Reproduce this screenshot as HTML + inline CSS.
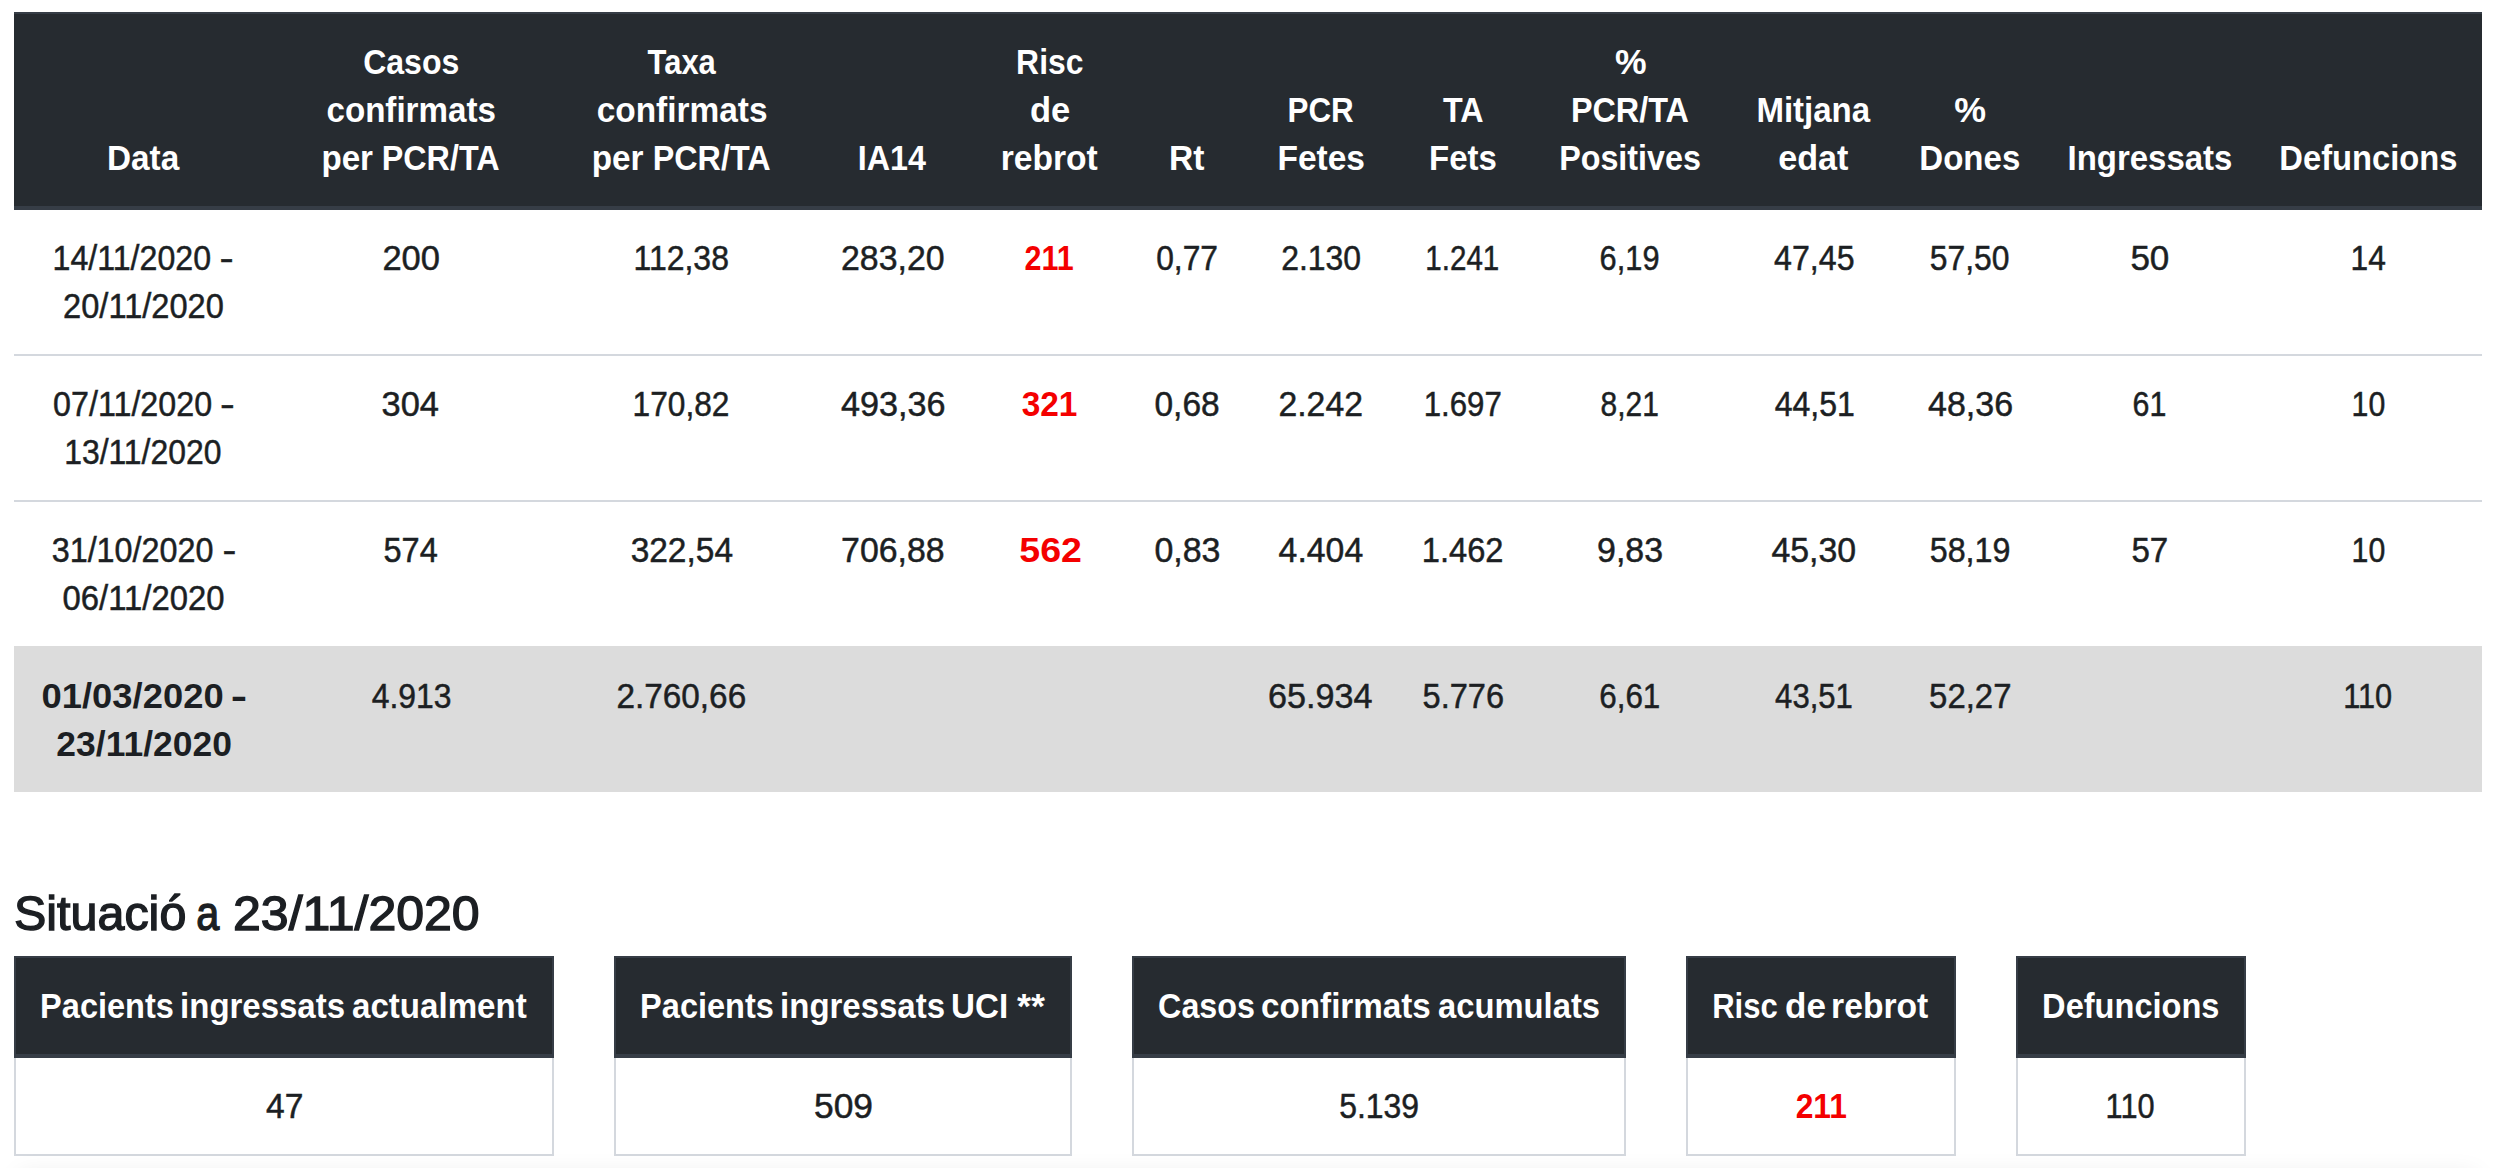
<!DOCTYPE html>
<html lang="ca">
<head>
<meta charset="utf-8">
<title>Situació a 23/11/2020</title>
<style>
html,body{margin:0;padding:0;background:#fff;}
body{width:2496px;height:1168px;overflow:hidden;position:relative;font-family:"Liberation Sans",sans-serif;font-size:35px;line-height:48px;color:#1c1f23;}
table{border-collapse:separate;border-spacing:0;table-layout:fixed;}
.t{display:inline-block;white-space:nowrap;transform-origin:50% 50%;-webkit-text-stroke:0.5px currentColor;}
.t.r,.t.b,th .t{-webkit-text-stroke:0;}
h4 .t{-webkit-text-stroke:1.4px currentColor;}
.r{color:#f40000;font-weight:700;}
.b{font-weight:700;}
#main{position:absolute;left:14px;top:12px;width:2468px;}
#main th,#main td{padding:24px 0;text-align:center;vertical-align:top;font-weight:400;}
#main thead th{background:#262b30;color:#fff;font-weight:700;vertical-align:bottom;border-top:2px solid #363d46;border-bottom:4px solid #363d46;}
#main tbody td{border-top:2px solid #d4d8de;}
#main tbody tr:first-child td{border-top:0;}
#main tbody tr.tot td{background:#dcdcdc;border-top-color:#dcdcdc;}
h4{position:absolute;left:14px;top:884px;margin:0;font-size:49px;line-height:58px;font-weight:400;white-space:nowrap;}
.box{position:absolute;top:956px;}
.box th{background:#262b30;color:#fff;font-weight:700;border:2px solid #363d46;border-bottom-width:4px;padding:24px 0;text-align:center;white-space:nowrap;}
.box td{border:2px solid #d4d8de;border-top:0;padding:24px 0;text-align:center;}
#shade{position:absolute;left:24px;right:24px;top:1180px;height:40px;box-shadow:0 0 26px 4px rgba(0,0,0,.10);}

</style>
</head>
<body>
<table id="main">
<colgroup><col style="width:260px"><col style="width:274px"><col style="width:268px"><col style="width:152px"><col style="width:164px"><col style="width:110px"><col style="width:158px"><col style="width:126px"><col style="width:208px"><col style="width:160px"><col style="width:152px"><col style="width:208px"><col style="width:228px"></colgroup>
<thead><tr>
<th><span class="t" id="t1" style="transform:translateX(-0.80px) scaleX(0.9515)">Data</span></th>
<th><span class="t" id="t2" style="transform:translateX(0.70px) scaleX(0.9157)">Casos</span><br><span class="t" id="t3" style="transform:translateX(-0.30px) scaleX(0.9468)">confirmats</span><br><span class="t" id="t4" style="transform:translateX(5.00px) scaleX(0.9469)">per</span> <span class="t" id="t5" style="transform:translateX(-2.20px) scaleX(0.9232)">PCR/TA</span></th>
<th><span class="t" id="t6" style="transform:translateX(0.10px) scaleX(0.8835)">Taxa</span><br><span class="t" id="t7" style="transform:translateX(-0.40px) scaleX(0.9547)">confirmats</span><br><span class="t" id="t8" style="transform:translateX(4.30px) scaleX(0.9508)">per</span> <span class="t" id="t9" style="transform:translateX(-2.20px) scaleX(0.9232)">PCR/TA</span></th>
<th><span class="t" id="t10" style="transform:translateX(-0.20px) scaleX(0.9224)">IA14</span></th>
<th><span class="t" id="t11" style="transform:translateX(-0.20px) scaleX(0.9101)">Risc</span><br><span class="t" id="t12" style="transform:translateX(-0.30px) scaleX(0.9850)">de</span><br><span class="t" id="t13" style="transform:translateX(-0.40px) scaleX(0.9595)">rebrot</span></th>
<th><span class="t" id="t14" style="transform:translateX(-0.70px) scaleX(0.9595)">Rt</span></th>
<th><span class="t" id="t15" style="transform:translateX(-0.30px) scaleX(0.8960)">PCR</span><br><span class="t" id="t16" style="transform:translateX(0.50px) scaleX(0.9569)">Fetes</span></th>
<th><span class="t" id="t17" style="transform:translateX(0.30px) scaleX(0.9214)">TA</span><br><span class="t" id="t18" style="transform:translateX(0.00px) scaleX(0.9420)">Fets</span></th>
<th><span class="t" id="t19" style="transform:translateX(1.20px) scaleX(1.0143)">%</span><br><span class="t" id="t20" style="transform:translateX(0.10px) scaleX(0.9250)">PCR/TA</span><br><span class="t" id="t21" style="transform:translateX(0.20px) scaleX(0.9227)">Positives</span></th>
<th><span class="t" id="t22" style="transform:translateX(-1.00px) scaleX(0.9431)">Mitjana</span><br><span class="t" id="t23" style="transform:translateX(-0.70px) scaleX(0.9751)">edat</span></th>
<th><span class="t" id="t24" style="transform:translateX(0.70px) scaleX(1.0217)">%</span><br><span class="t" id="t25" style="transform:translateX(-0.70px) scaleX(0.9436)">Dones</span></th>
<th><span class="t" id="t26" style="transform:translateX(0.40px) scaleX(0.9416)">Ingressats</span></th>
<th><span class="t" id="t27" style="transform:translateX(0.10px) scaleX(0.9349)">Defuncions</span></th>
</tr></thead>
<tbody>
<tr>
<td><span class="t" id="t28" style="transform:translateX(-1.50px) scaleX(0.9182)">14/11/2020</span> <span class="t" id="t29" style="transform:translateX(-8.30px) scaleX(1.2125)">-</span><br><span class="t" id="t30" style="transform:translateX(-0.80px) scaleX(0.9320)">20/11/2020</span></td>
<td><span class="t" id="t31" style="transform:translateX(0.00px) scaleX(0.9864)">200</span></td>
<td><span class="t" id="t32" style="transform:translateX(-1.00px) scaleX(0.9131)">112,38</span></td>
<td><span class="t" id="t33" style="transform:translateX(1.30px) scaleX(0.9675)">283,20</span></td>
<td><span class="t r" id="t34" style="transform:translateX(-1.10px) scaleX(0.8715)">211</span></td>
<td><span class="t" id="t35" style="transform:translateX(0.00px) scaleX(0.9080)">0,77</span></td>
<td><span class="t" id="t36" style="transform:translateX(0.30px) scaleX(0.9122)">2.130</span></td>
<td><span class="t" id="t37" style="transform:translateX(-0.50px) scaleX(0.8435)">1.241</span></td>
<td><span class="t" id="t38" style="transform:translateX(-0.50px) scaleX(0.8790)">6,19</span></td>
<td><span class="t" id="t39" style="transform:translateX(0.50px) scaleX(0.9182)">47,45</span></td>
<td><span class="t" id="t40" style="transform:translateX(-0.20px) scaleX(0.9100)">57,50</span></td>
<td><span class="t" id="t41" style="transform:translateX(-0.60px) scaleX(1.0008)">50</span></td>
<td><span class="t" id="t42" style="transform:translateX(-0.30px) scaleX(0.9062)">14</span></td>
</tr>
<tr>
<td><span class="t" id="t43" style="transform:translateX(-0.70px) scaleX(0.9210)">07/11/2020</span> <span class="t" id="t44" style="transform:translateX(-7.50px) scaleX(1.2652)">-</span><br><span class="t" id="t45" style="transform:translateX(-1.50px) scaleX(0.9114)">13/11/2020</span></td>
<td><span class="t" id="t46" style="transform:translateX(-0.90px) scaleX(0.9834)">304</span></td>
<td><span class="t" id="t47" style="transform:translateX(-0.50px) scaleX(0.9051)">170,82</span></td>
<td><span class="t" id="t48" style="transform:translateX(1.80px) scaleX(0.9773)">493,36</span></td>
<td><span class="t r" id="t49" style="transform:translateX(-0.70px) scaleX(0.9546)">321</span></td>
<td><span class="t" id="t50" style="transform:translateX(0.00px) scaleX(0.9574)">0,68</span></td>
<td><span class="t" id="t51" style="transform:translateX(-0.10px) scaleX(0.9644)">2.242</span></td>
<td><span class="t" id="t52" style="transform:translateX(-0.10px) scaleX(0.8919)">1.697</span></td>
<td><span class="t" id="t53" style="transform:translateX(-0.30px) scaleX(0.8559)">8,21</span></td>
<td><span class="t" id="t54" style="transform:translateX(1.00px) scaleX(0.9155)">44,51</span></td>
<td><span class="t" id="t55" style="transform:translateX(0.80px) scaleX(0.9720)">48,36</span></td>
<td><span class="t" id="t56" style="transform:translateX(-1.00px) scaleX(0.8679)">61</span></td>
<td><span class="t" id="t57" style="transform:translateX(0.00px) scaleX(0.8653)">10</span></td>
</tr>
<tr>
<td><span class="t" id="t58" style="transform:translateX(-1.00px) scaleX(0.9239)">31/10/2020</span> <span class="t" id="t59" style="transform:translateX(-7.30px) scaleX(1.1855)">-</span><br><span class="t" id="t60" style="transform:translateX(-0.80px) scaleX(0.9386)">06/11/2020</span></td>
<td><span class="t" id="t61" style="transform:translateX(-0.60px) scaleX(0.9293)">574</span></td>
<td><span class="t" id="t62" style="transform:translateX(0.30px) scaleX(0.9564)">322,54</span></td>
<td><span class="t" id="t63" style="transform:translateX(1.30px) scaleX(0.9674)">706,88</span></td>
<td><span class="t r" id="t64" style="transform:translateX(0.40px) scaleX(1.0717)">562</span></td>
<td><span class="t" id="t65" style="transform:translateX(0.40px) scaleX(0.9695)">0,83</span></td>
<td><span class="t" id="t66" style="transform:translateX(0.10px) scaleX(0.9653)">4.404</span></td>
<td><span class="t" id="t67" style="transform:translateX(-0.20px) scaleX(0.9328)">1.462</span></td>
<td><span class="t" id="t68" style="transform:translateX(0.00px) scaleX(0.9697)">9,83</span></td>
<td><span class="t" id="t69" style="transform:translateX(0.00px) scaleX(0.9674)">45,30</span></td>
<td><span class="t" id="t70" style="transform:translateX(0.30px) scaleX(0.9216)">58,19</span></td>
<td><span class="t" id="t71" style="transform:translateX(-0.60px) scaleX(0.9460)">57</span></td>
<td><span class="t" id="t72" style="transform:translateX(0.00px) scaleX(0.8653)">10</span></td>
</tr>
<tr class="tot">
<td><span class="t b" id="t73" style="transform:translateX(-1.00px) scaleX(1.0395)">01/03/2020</span> <span class="t b" id="t74" style="transform:translateX(2.20px) scaleX(1.4063)">-</span><br><span class="t b" id="t75" style="transform:translateX(0.50px) scaleX(1.0131)">23/11/2020</span></td>
<td><span class="t" id="t76" style="transform:translateX(0.80px) scaleX(0.9107)">4.913</span></td>
<td><span class="t" id="t77" style="transform:translateX(-0.80px) scaleX(0.9520)">2.760,66</span></td>
<td></td>
<td></td>
<td></td>
<td><span class="t" id="t78" style="transform:translateX(-0.30px) scaleX(0.9755)">65.934</span></td>
<td><span class="t" id="t79" style="transform:translateX(0.50px) scaleX(0.9311)">5.776</span></td>
<td><span class="t" id="t80" style="transform:translateX(-0.30px) scaleX(0.8977)">6,61</span></td>
<td><span class="t" id="t81" style="transform:translateX(0.20px) scaleX(0.8877)">43,51</span></td>
<td><span class="t" id="t82" style="transform:translateX(0.50px) scaleX(0.9406)">52,27</span></td>
<td></td>
<td><span class="t" id="t83" style="transform:translateX(-0.20px) scaleX(0.8778)">110</span></td>
</tr>
</tbody></table>
<h4><span class="t" id="t84" style="transform:translateX(-1.00px) scaleX(0.9884)">Situació</span> <span class="t" id="t85" style="transform:translateX(-8.00px) scaleX(0.8434)">a</span> <span class="t" id="t86" style="transform:translateX(-7.46px) scaleX(1.0212)">23/11/2020</span></h4>
<table class="box" style="left:14px;width:540px"><thead><tr><th><span class="t" id="t87" style="transform:translateX(13.00px) scaleX(0.9291)">Pacients</span> <span class="t" id="t88" style="transform:translateX(-1.00px) scaleX(0.9419)">ingressats</span> <span class="t" id="t89" style="transform:translateX(-14.00px) scaleX(0.9454)">actualment</span></th></tr></thead><tbody><tr><td><span class="t" id="t90" style="transform:translateX(0.20px) scaleX(0.9592)">47</span></td></tr></tbody></table>
<table class="box" style="left:614px;width:458px"><thead><tr><th><span class="t" id="t91" style="transform:translateX(10.00px) scaleX(0.9291)">Pacients</span> <span class="t" id="t92" style="transform:translateX(-3.98px) scaleX(0.9419)">ingressats</span> <span class="t" id="t93" style="transform:translateX(-14.54px) scaleX(0.9467)">UCI</span> <span class="t" id="t94" style="transform:translateX(-16.70px) scaleX(1.0231)">**</span></th></tr></thead><tbody><tr><td><span class="t" id="t95" style="transform:translateX(0.30px) scaleX(1.0113)">509</span></td></tr></tbody></table>
<table class="box" style="left:1132px;width:494px"><thead><tr><th><span class="t" id="t96" style="transform:translateX(13.00px) scaleX(0.9218)">Casos</span> <span class="t" id="t97" style="transform:translateX(0.46px) scaleX(0.9490)">confirmats</span> <span class="t" id="t98" style="transform:translateX(-11.50px) scaleX(0.9357)">acumulats</span></th></tr></thead><tbody><tr><td><span class="t" id="t99" style="transform:translateX(0.30px) scaleX(0.9122)">5.139</span></td></tr></tbody></table>
<table class="box" style="left:1686px;width:270px"><thead><tr><th><span class="t" id="t100" style="transform:translateX(4.99px) scaleX(0.8875)">Risc</span> <span class="t" id="t101" style="transform:translateX(-2.00px) scaleX(1.0018)">de</span> <span class="t" id="t102" style="transform:translateX(-8.86px) scaleX(0.9613)">rebrot</span></th></tr></thead><tbody><tr><td><span class="t r" id="t103" style="transform:translateX(0.10px) scaleX(0.9078)">211</span></td></tr></tbody></table>
<table class="box" style="left:2016px;width:230px"><thead><tr><th><span class="t" id="t104" style="transform:translateX(-0.50px) scaleX(0.9305)">Defuncions</span></th></tr></thead><tbody><tr><td><span class="t" id="t105" style="transform:translateX(-0.80px) scaleX(0.8782)">110</span></td></tr></tbody></table>
<div id="shade"></div>
</body></html>
